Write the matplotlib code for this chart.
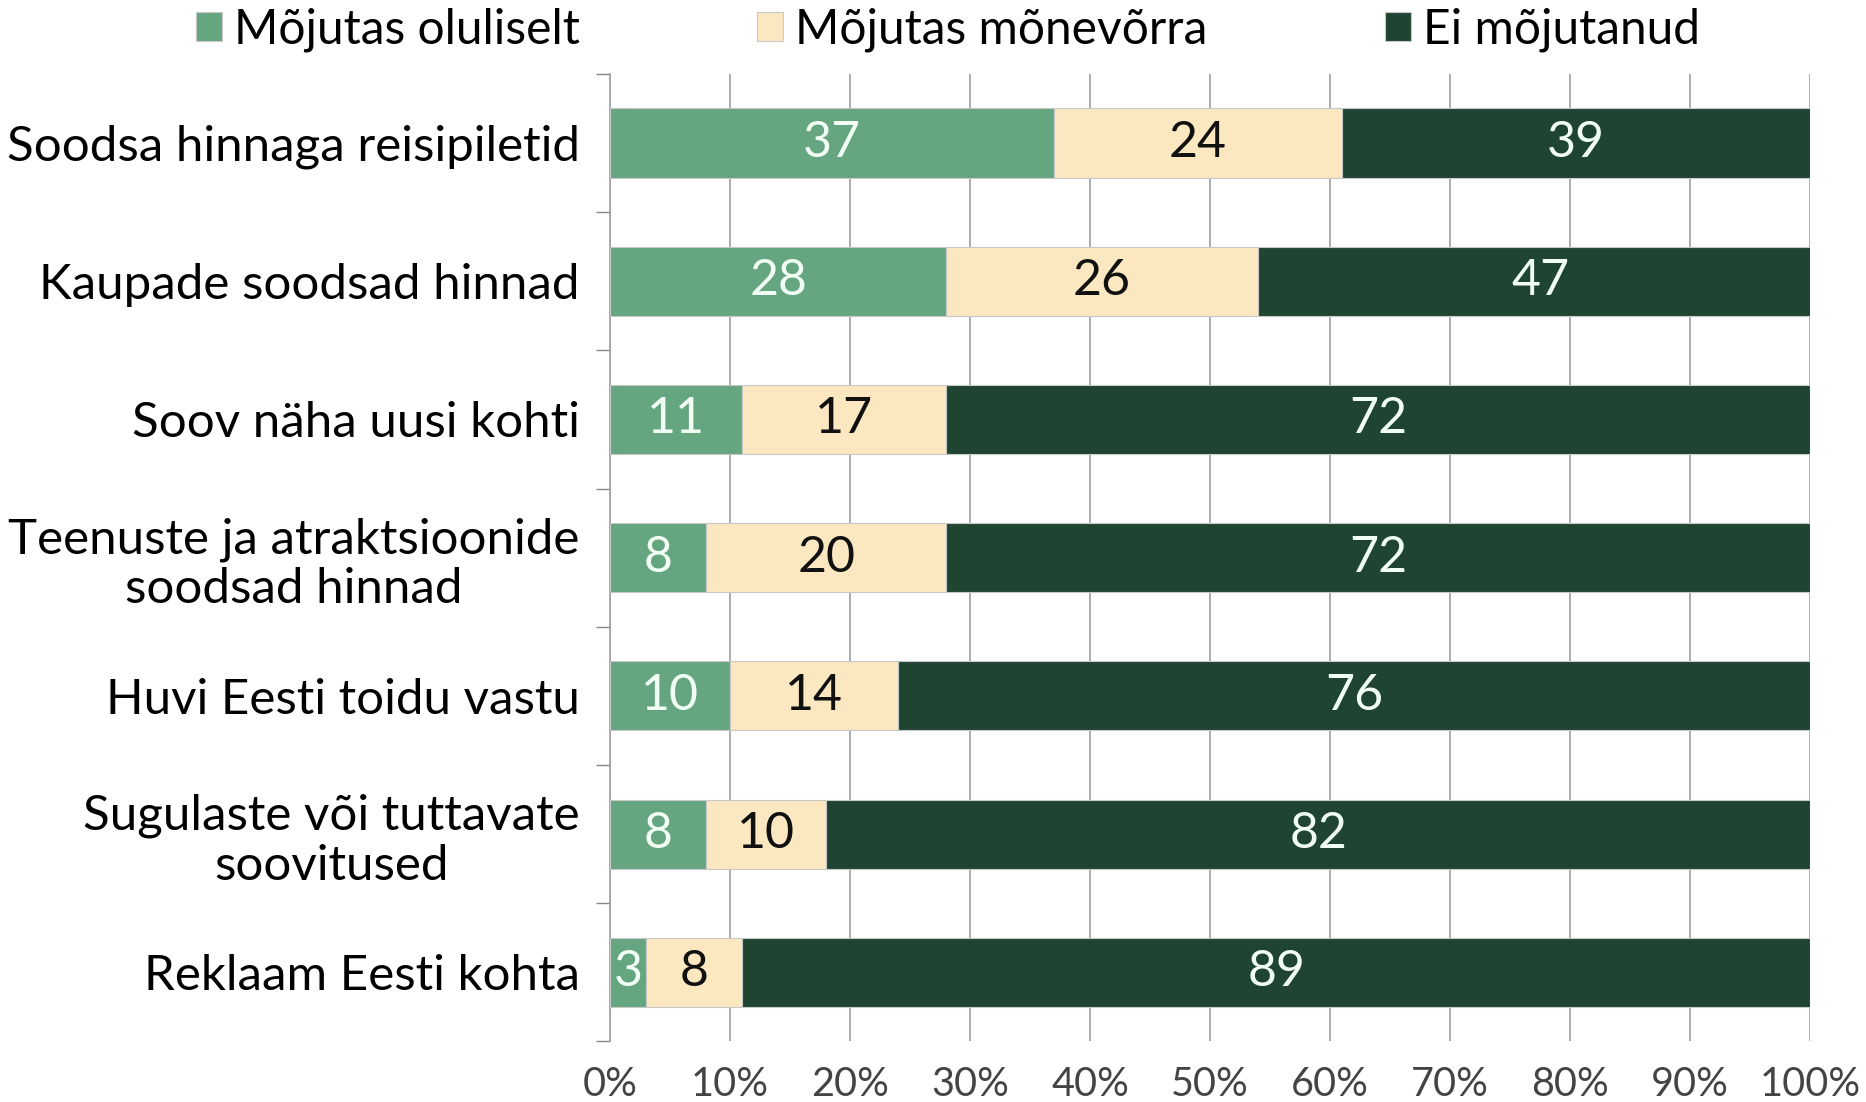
import matplotlib.pyplot as plt
import numpy as np

plt.rcParams['font.family'] = ['Lato', 'DejaVu Sans']

# Données
categories = ['Soodsa hinnaga reisipiletid', 'Kaupade soodsad hinnad', 'Soov näha uusi kohti',
              'Teenuste ja atraktsioonide\nsoodsad hinnad', 'Huvi Eesti toidu vastu',
              'Sugulaste või tuttavate\nsoovitused', 'Reklaam Eesti kohta']
oluliselt = [37, 28, 11, 8, 10, 8, 3]
monevorra = [24, 26, 17, 20, 14, 10, 8]
ei = [39, 47, 72, 72, 76, 82, 89]
series_names = ['Mõjutas oluliselt', 'Mõjutas mõnevõrra', 'Ei mõjutanud']
colors = ['#65A57F', '#FBE8C1', '#1F4532']
text_colors = ['#F2FFF5', '#111111', '#F2FFF5']
xticks = np.arange(0, 101, 10)

fig = plt.figure(figsize=(18.66, 11.02), dpi=100)
ax = fig.add_axes([0.327, 0.055, 0.643, 0.878])

y = np.arange(len(categories))
left = np.zeros(len(categories))
for vals, name, c, tc in zip([oluliselt, monevorra, ei], series_names, colors, text_colors):
    vals = np.array(vals)
    bars = ax.barh(y, vals, left=left, height=0.5, color=c, edgecolor='#c8c8c8',
                   linewidth=0.8, label=name, zorder=3)
    for b, v in zip(bars, vals):
        ax.text(b.get_x() + b.get_width() / 2, b.get_y() + b.get_height() / 2, str(v),
                ha='center', va='center', color=tc, fontsize=36, zorder=4)
    left += vals

ax.set_ylim(len(categories) - 0.5, -0.5)
ax.set_xlim(0, 100)
ax.set_yticks(y)
ax.set_yticklabels(categories, fontsize=35.5, linespacing=1.15, multialignment='center')
ax.tick_params(axis='y', length=0, pad=22)
ax.set_yticks(np.arange(-0.5, len(categories), 1), minor=True)
ax.tick_params(axis='y', which='minor', length=10, color='#888888', width=1)
ax.set_xticks(xticks)
ax.set_xticklabels([f'{t}%' for t in xticks], fontsize=28.5, color='#444444')
ax.tick_params(axis='x', length=0, pad=18)
ax.grid(axis='x', color='#a0a0a0', linewidth=1.2, zorder=0)
for s in ['top', 'right', 'bottom']:
    ax.spines[s].set_visible(False)
ax.spines['left'].set_color('#a0a0a0')
ax.spines['left'].set_linewidth(1.2)

fig.legend(loc='upper center', bbox_to_anchor=(0.508, 1.032), ncol=3, frameon=False,
           fontsize=34.5, handlelength=0.55, handleheight=0.55, handletextpad=0.25,
           columnspacing=3.7)

plt.savefig('out.png')
